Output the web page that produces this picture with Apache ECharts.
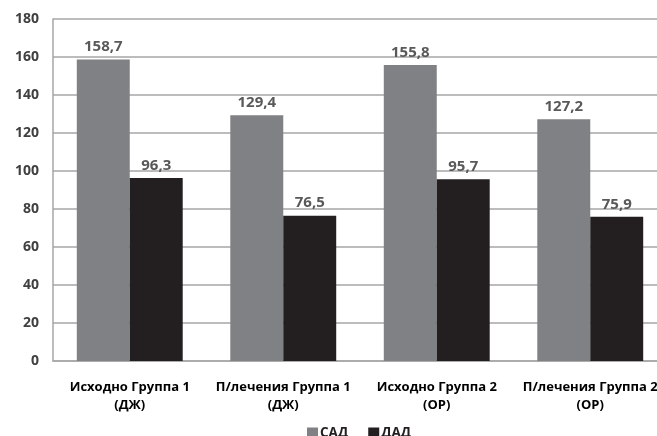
<!DOCTYPE html>
<html><head><meta charset="utf-8">
<script src="https://cdn.jsdelivr.net/npm/echarts@6/dist/echarts.min.js"></script>
<style>html,body{margin:0;padding:0;background:#fff}#c{width:657px;height:436px}</style>
</head><body><div id="c"></div>
<script>
var categories = ['Исходно Группа 1\n(ДЖ)', 'П/лечения Группа 1\n(ДЖ)', 'Исходно Группа 2\n(ОР)', 'П/лечения Группа 2\n(ОР)'];
var sadValues = [158.7, 129.4, 155.8, 127.2];
var dadValues = [96.3, 76.5, 95.7, 75.9];
var seriesNames = ['САД', 'ДАД'];
var yTicks = [0, 20, 40, 60, 80, 100, 120, 140, 160, 180];

var font = '"Open Sans"';
var chart = echarts.init(document.getElementById('c'));
var lbl = {show: true, position: 'top', distance: 5, color: '#595959', fontFamily: font, fontWeight: 'bold', fontSize: 15,
  formatter: function(p){ return String(p.value.toFixed(1)).replace('.', ','); }};
chart.setOption({
  animation: false,
  grid: {left: 53, width: 614, top: 19, height: 342, containLabel: false, outerBoundsMode: 'none'},
  legend: {
    data: seriesNames, top: 421, left: 302, itemWidth: 11, itemHeight: 11, itemGap: 20,
    icon: 'rect',
    textStyle: {fontFamily: font, fontWeight: 'bold', fontSize: 13.5, color: '#231f20', padding: [0,0,0,-3]}
  },
  xAxis: {
    type: 'category', data: categories,
    axisLine: {show: true, lineStyle: {color: '#a6a6a6', width: 1.5}},
    axisTick: {show: false},
    axisLabel: {margin: 17, color: '#000', fontFamily: font, fontWeight: 'bold', fontSize: 13, lineHeight: 18, interval: 0}
  },
  yAxis: {
    type: 'value', min: 0, max: 180, interval: 20,
    axisLine: {show: true, lineStyle: {color: '#a6a6a6', width: 1.5}},
    axisTick: {show: false},
    splitLine: {lineStyle: {color: '#a6a6a6', width: 1.5}},
    axisLabel: {margin: 14, color: '#404040', fontFamily: font, fontWeight: 'bold', fontSize: 14,
      formatter: function(v){ return yTicks.indexOf(v) >= 0 ? String(v) : ''; }}
  },
  series: [
    {name: seriesNames[0], type: 'bar', data: sadValues, barWidth: '34.5%', barGap: '0%',
     itemStyle: {color: '#808184'}, label: lbl},
    {name: seriesNames[1], type: 'bar', data: dadValues, barWidth: '34.5%',
     itemStyle: {color: '#231f20'}, label: lbl}
  ]
});
</script></body></html>
